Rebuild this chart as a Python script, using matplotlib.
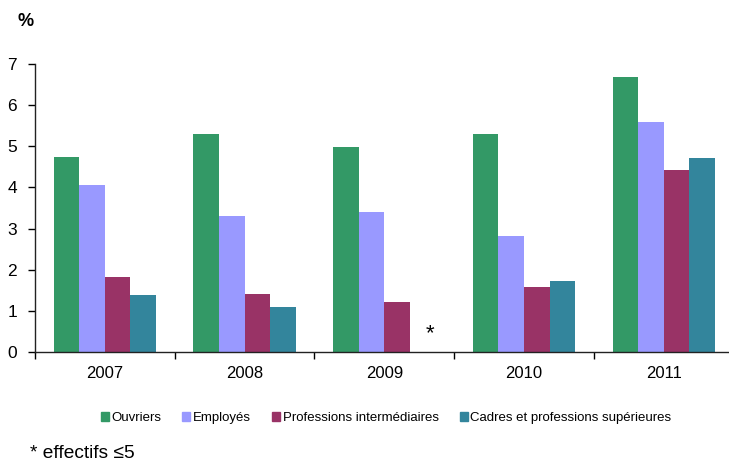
import matplotlib.pyplot as plt
import numpy as np
from matplotlib.patches import Patch

plt.rcParams['font.family'] = ['Liberation Sans', 'DejaVu Sans']

years = ['2007', '2008', '2009', '2010', '2011']
series = ['Ouvriers', 'Employés', 'Professions intermédiaires',
          'Cadres et professions supérieures']
ouvriers = [4.74, 5.31, 4.98, 5.31, 6.68]
employes = [4.05, 3.31, 3.40, 2.82, 5.58]
prof_inter = [1.82, 1.40, 1.21, 1.59, 4.42]
cadres = [1.38, 1.09, np.nan, 1.73, 4.71]  # 2009: effectifs <= 5
colors = ['#339966', '#9999ff', '#993366', '#33859c']

W, H = 729, 462
fig = plt.figure(figsize=(W / 100, H / 100), dpi=100)
# axes spans 35..733 px horizontally, 64..352 px vertically
ax = fig.add_axes([35 / W, (H - 352) / H, (733.5 - 35) / W, (352 - 64) / H])

x = np.arange(len(years))
bw = 0.183
values = [ouvriers, employes, prof_inter, cadres]
for i, (vals, c) in enumerate(zip(values, colors)):
    ax.bar(x + (i - 1.5) * bw, vals, bw, color=c, linewidth=0)

# asterisk for missing value
ax.text(x[2] + 0.325, 0.45, '*', ha='center', va='center', fontsize=16)

ax.set_xlim(-0.5, len(years) - 0.5)
ax.set_ylim(0, 7)
ax.set_yticks(range(0, 8))
ax.set_xticks(np.arange(-0.5, len(years), 1.0))
ax.set_xticklabels([])
ax.set_xticks(x, minor=True)
ax.set_xticklabels(years, minor=True)
ax.tick_params(axis='x', which='minor', length=0, pad=10, labelsize=12)
ax.tick_params(axis='x', which='major', length=5, width=1, direction='out')
ax.tick_params(axis='y', length=5, width=1, direction='out', labelsize=12.5, pad=8)
for s in ['top', 'right']:
    ax.spines[s].set_visible(False)
for s in ['left', 'bottom']:
    ax.spines[s].set_linewidth(1)
    ax.spines[s].set_color('#222222')

fig.text(17 / W, 1 - 22 / H, '%', fontsize=13, fontweight='bold', va='center')

handles = [Patch(color=c) for c in colors]
fig.legend(handles, series, loc='center', bbox_to_anchor=(386 / W, 1 - 418 / H),
           ncol=4, frameon=False, fontsize=9.5, handlelength=0.6,
           handleheight=0.6, handletextpad=0.2, columnspacing=1.6)

fig.text(30 / W, 1 - 454 / H, '* effectifs ≤5', fontsize=13.8, va='center')

fig.savefig('out.png', dpi=100)
